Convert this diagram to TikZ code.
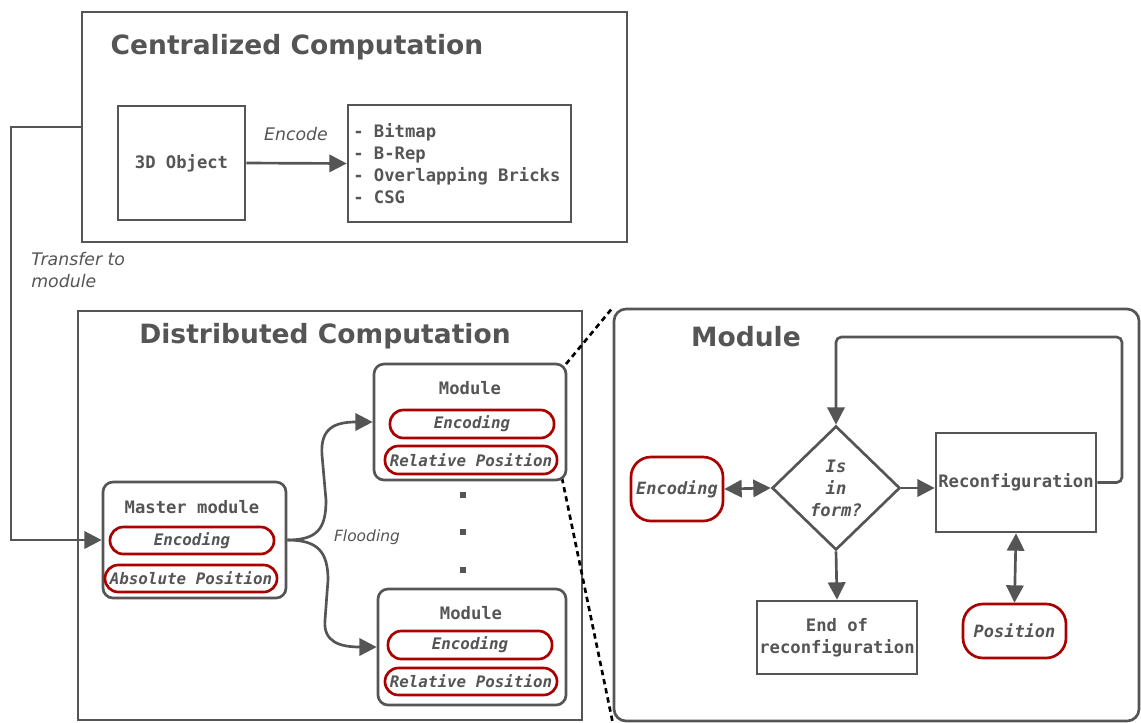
\documentclass[tikz,border=0pt]{standalone}
\usepackage{fontspec}
\setmainfont{DejaVu Sans}[BoldFont={DejaVu Sans Bold},ItalicFont={DejaVu Sans Oblique},BoldItalicFont={DejaVu Sans Bold Oblique}]
\setmonofont{DejaVu Sans Mono}[BoldFont={DejaVu Sans Mono Bold},ItalicFont={DejaVu Sans Mono Oblique},BoldItalicFont={DejaVu Sans Mono Bold Oblique}]
\usetikzlibrary{arrows.meta,shapes.geometric}
\definecolor{dg}{RGB}{85,85,85}
\definecolor{rd}{RGB}{170,0,0}
\begin{document}
\begin{tikzpicture}[x=0.75pt,y=-0.75pt,
 sz/.style 2 args={minimum width=#1*0.75pt, minimum height=#2*0.75pt},
 box/.style={draw=dg, line width=2pt, fill=white, inner sep=0pt},
 rbox/.style={box, rounded corners=7.5pt},
 pill/.style={draw=rd, line width=2pt, fill=white, rounded corners=10pt, inner sep=0pt, font=\ttfamily\bfseries\itshape\fontsize{11.9}{14}\selectfont, text=dg},
 bigpill/.style={pill, rounded corners=15pt, font=\ttfamily\bfseries\itshape\fontsize{12.7}{16}\selectfont},
 title/.style={font=\bfseries\fontsize{19.9}{24}\selectfont, text=dg, inner sep=0pt},
 mono/.style={font=\ttfamily\bfseries\fontsize{12.9}{16.5}\selectfont, text=dg, inner sep=0pt, align=center},
 lab/.style={font=\itshape\fontsize{13}{16.5}\selectfont, text=dg, inner sep=0pt},
 arr/.style={draw=dg, line width=2pt, -{Triangle[length=13pt,width=13pt]}},
 darr/.style={draw=dg, line width=2pt, {Triangle[length=13pt,width=13pt]}-{Triangle[length=13pt,width=13pt]}},
 dotsq/.style={fill=dg, inner sep=0pt, minimum size=4.5pt},
]
\useasboundingbox (0,0) rectangle (1141,722);
\fill[white] (0,0) rectangle (1141,722);

% ---------- Centralized ----------
\node[box, sz={545}{230}] (central) at (354.5,127) {};
\node[title] (ctitle) at (297,47) {Centralized Computation};
\node[box, sz={127}{114}, mono] (obj) at (181.5,163) {3D Object};
\node[box, sz={223}{117}] (list) at (459.5,163.5) {};
\node[mono, anchor=west, align=left] (listt) at (353,163.5) {- Bitmap\\- B-Rep\\- Overlapping Bricks\\- CSG};
\draw[arr] (obj.east) -- (list.west);
\node[lab] (encl) at (296,134) {Encode};

% ---------- Distributed ----------
\node[box, sz={504}{409}] (dist) at (330,515.5) {};
\node[title] (dtitle) at (325,336) {Distributed Computation};

% ---------- Right module (zoom) ----------
\node[box, sz={525}{412}, rounded corners=9pt] (rmod) at (876.5,515) {};

\node[rbox, sz={183}{116}] (master) at (194.5,540) {};
\node[mono] (mastert) at (192,507) {Master module};
\node[pill, sz={164}{27}] (menc) at (192,540.5) {Encoding};
\node[pill, sz={172}{27}] (mabs) at (191,578.5) {Absolute Position};

\draw[black, line width=2pt, dash pattern=on 4pt off 3pt] (566,364) -- (rmod.north west);
\draw[black, line width=2pt, dash pattern=on 4pt off 3pt] (562,478) -- (rmod.south west);

\node[rbox, sz={192}{116}] (mod1) at (470,422) {};
\node[mono] (mod1t) at (470,388) {Module};
\node[pill, sz={164}{28}] (m1enc) at (472,424) {Encoding};
\node[pill, sz={172}{28}] (m1rel) at (471,460) {Relative Position};

\node[rbox, sz={188}{116}] (mod2) at (472,647) {};
\node[mono] (mod2t) at (471,613) {Module};
\node[pill, sz={164}{28}] (m2enc) at (470,645) {Encoding};
\node[pill, sz={172}{27}] (m2rel) at (471,681.5) {Relative Position};

\node[dotsq] (d1) at (463,495) {};
\node[dotsq] (d2) at (463,532) {};
\node[dotsq] (d3) at (463,570) {};

% Transfer arrow
\draw[arr] (central.west) -- (11,127) |- (master.west);
\node[lab, anchor=west, align=left] (trl) at (31,270) {Transfer to\\module};

% Flooding
\draw[arr] (master.east) .. controls (318,540) and (326,528) .. (326,500) -- (322,455) .. controls (320,428) and (335,422) .. (mod1.west);
\draw[arr] (master.east) .. controls (318,540) and (328,552) .. (328,580) -- (325,620) .. controls (323,642) and (340,647) .. (mod2.west);
\node[lab, font=\itshape\fontsize{11.6}{14}\selectfont] (flood) at (367,537) {Flooding};

% Right module content
\node[title] (rtitle) at (746,337) {Module};
\node[box, diamond, sz={128}{124}] (dia) at (836,488) {};
\node[mono, font=\ttfamily\bfseries\itshape\fontsize{12.9}{16.5}\selectfont] (diat) at (836,488) {Is\\in\\form?};
\node[bigpill, sz={92}{64}] (renc) at (677,489) {Encoding};
\node[box, sz={160}{99}, font=\ttfamily\bfseries\fontsize{12.9}{16.5}\selectfont, text=dg] (rec) at (1016,482.5) {Reconfiguration};
\node[box, sz={160}{73}, mono] (endb) at (837,637.5) {End of\\reconfiguration};
\node[bigpill, sz={103}{54}] (pos) at (1014.5,631) {Position};

\draw[darr] (renc.east) -- (dia.west);
\draw[arr] (dia.east) -- (dia.east -| rec.west);
\draw[arr, rounded corners=4pt] (rec.east) -- (1122,482.5) |- (836,337) -- (dia.north);
\draw[arr] (dia.south) -- (endb.north);
\draw[darr] (rec.south) -- (pos.north);
\end{tikzpicture}
\end{document}
